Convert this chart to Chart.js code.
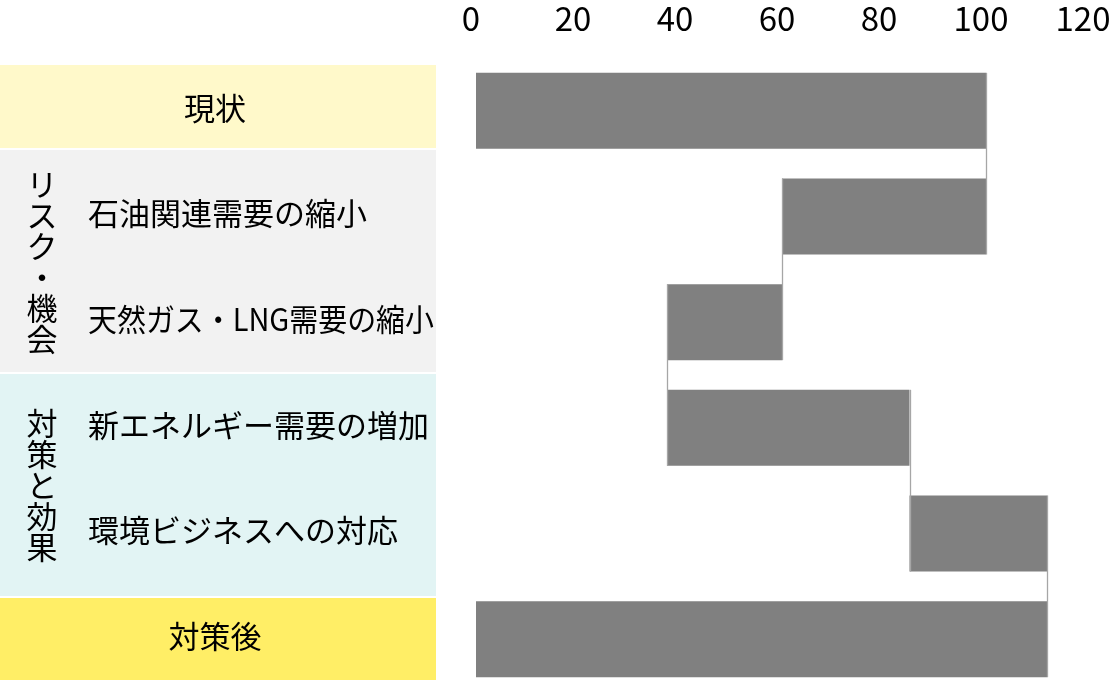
<!DOCTYPE html>
<html lang="ja">
<head>
<meta charset="utf-8">
<title>シナリオ分析</title>
<script src="https://cdn.jsdelivr.net/npm/chart.js@4.4.0/dist/chart.umd.min.js"></script>
<style>
  html, body { margin: 0; padding: 0; background: #fff; overflow: hidden; }
  canvas { display: block; }
</style>
</head>
<body>
<canvas id="waterfall" width="1110" height="700"></canvas>
<script>
// categories (top to bottom)
const categories = ['現状', '石油関連需要の縮小', '天然ガス・LNG需要の縮小', '新エネルギー需要の増加', '環境ビジネスへの対応', '対策後'];
// floating bar ranges
const barStart = [0, 60, 37.5, 37.5, 85, 0];
const barEnd = [100, 100, 60, 85, 112, 112];
const xTicks = [0, 20, 40, 60, 80, 100, 120];

// left side label panels
const groups = [
    { label: 'リスク・機会', from: 1, to: 2, shift: -8 },
    { label: '対策と効果', from: 3, to: 4, shift: 5 }
];
const centered = [0, 5]; // rows with centered labels
const panels = [
    { top: 65, bottom: 148, color: '#FFF9CA' },
    { top: 150, bottom: 372, color: '#F2F2F2' },
    { top: 374, bottom: 596, color: '#E2F4F4' },
    { top: 598, bottom: 690, color: '#FFEE66' }
];

const FONT = '"Noto Sans CJK JP", "Noto Sans", sans-serif';

const leftPanel = {
    id: 'leftPanel',
    beforeDraw(chart) {
        const ctx = chart.ctx;
        const y = chart.scales.y;
        ctx.save();
        panels.forEach(p => {
            ctx.fillStyle = p.color;
            ctx.fillRect(0, p.top, 436, p.bottom - p.top);
        });
        ctx.fillStyle = '#000';
        ctx.font = '31px ' + FONT;
        ctx.textBaseline = 'middle';
        categories.forEach((c, i) => {
            const py = y.getPixelForValue(i);
            if (centered.includes(i)) {
                ctx.textAlign = 'center';
                ctx.fillText(c, 215, py - 3);
            } else {
                ctx.textAlign = 'left';
                ctx.fillText(c, 88, py - 3, 346);
            }
        });
        // vertical group titles
        ctx.textAlign = 'center';
        groups.forEach(g => {
            const mid = (y.getPixelForValue(g.from) + y.getPixelForValue(g.to)) / 2;
            const chars = Array.from(g.label);
            const step = 31;
            const start = mid - (chars.length - 1) * step / 2 + g.shift;
            chars.forEach((ch, k) => ctx.fillText(ch, 42, start + k * step));
        });
        ctx.restore();
    }
};

// connector lines between consecutive bars
const connectors = {
    id: 'connectors',
    afterDatasetsDraw(chart) {
        const ctx = chart.ctx;
        const x = chart.scales.x;
        const bars = chart.getDatasetMeta(0).data;
        ctx.save();
        ctx.strokeStyle = '#A6A6A6';
        ctx.lineWidth = 1.3;
        for (let i = 0; i < bars.length - 1; i++) {
            const a = [barStart[i], barEnd[i]];
            const b = [barStart[i + 1], barEnd[i + 1]];
            const shared = a.filter(v => v !== 0 && b.includes(v))[0];
            if (shared === undefined) continue;
            const px = Math.round(x.getPixelForValue(shared)) + 0.5;
            const y1 = bars[i].y - bars[i].height / 2;
            const y2 = bars[i + 1].y + bars[i + 1].height / 2;
            ctx.beginPath();
            ctx.moveTo(px, y1);
            ctx.lineTo(px, y2);
            ctx.stroke();
        }
        ctx.restore();
    }
};

const ctx = document.getElementById('waterfall').getContext('2d');
new Chart(ctx, {
    type: 'bar',
    data: {
        labels: categories,
        datasets: [{
            data: categories.map((c, i) => [barStart[i], barEnd[i]]),
            backgroundColor: '#808080',
            borderWidth: 0,
            barPercentage: 0.72,
            categoryPercentage: 1
        }]
    },
    options: {
        indexAxis: 'y',
        responsive: false,
        animation: false,
        layout: {
            padding: { left: 476, right: 22, top: 0, bottom: 8 }
        },
        plugins: {
            legend: { display: false },
            tooltip: { enabled: false }
        },
        scales: {
            x: {
                position: 'top',
                min: 0,
                max: 120,
                afterBuildTicks: scale => { scale.ticks = xTicks.map(v => ({ value: v })); },
                afterFit: scale => {
                    scale.height = 58;
                    scale.paddingLeft = 0;
                    scale.paddingRight = 0;
                },
                grid: { display: false, drawTicks: false },
                border: { display: false },
                ticks: {
                    color: '#000',
                    padding: 20,
                    labelOffset: -5,
                    maxRotation: 0,
                    font: { family: FONT, size: 33 }
                }
            },
            y: {
                display: false
            }
        }
    },
    plugins: [leftPanel, connectors]
});
</script>
</body>
</html>
